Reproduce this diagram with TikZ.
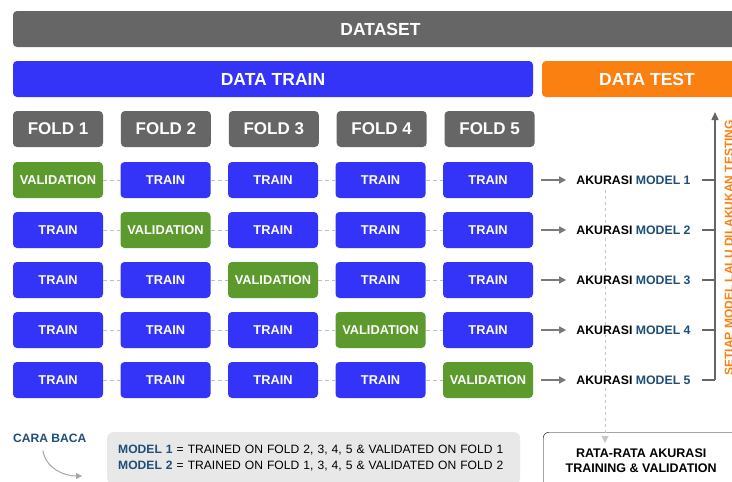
\documentclass[tikz,border=0pt]{standalone}
\usepackage{fontspec}
\setmainfont{Liberation Sans}
\usetikzlibrary{arrows.meta,positioning,calc}
\definecolor{dsgray}{HTML}{666666}
\definecolor{trblue}{HTML}{3434F8}
\definecolor{valgreen}{HTML}{5C9A2E}
\definecolor{tsorange}{HTML}{FA8012}
\definecolor{mdblue}{HTML}{1F4E79}
\definecolor{leggray}{HTML}{E8E8E8}
\definecolor{arrgray}{HTML}{7A7A7A}

\begin{document}
\begin{tikzpicture}[
            x=1pt,y=-1pt,
            bar/.style={rectangle,rounded corners=4pt,minimum height=36pt,inner sep=0pt,
                        text=white,font=\bfseries\fontsize{17.5}{19}\selectfont},
            fold/.style={bar,fill=dsgray,minimum width=90pt,font=\bfseries\fontsize{17}{19}\selectfont},
            trainbox/.style={bar,fill=trblue,minimum width=90pt,font=\bfseries\fontsize{12.8}{14}\selectfont},
            valbox/.style={trainbox,fill=valgreen},
            link/.style={dashed,dash pattern=on 4pt off 3pt,black!25,line width=0.8pt},
            acc/.style={font=\bfseries\fontsize{12.3}{14}\selectfont,fill=white,inner sep=1pt},
            line/.style={-{Triangle[length=7pt,width=7pt]},arrgray,line width=1.4pt},
            axis/.style={-{Triangle[length=8pt,width=7pt]},dsgray,line width=1.4pt},
            dots/.style={dash pattern=on 3pt off 3pt,black!22,line width=1pt,-{Triangle[length=7pt,width=7pt]}}
        ]
        \clip (0,0) rectangle (732,482);
        \fill[white] (0,0) rectangle (732,482);
        % top bars
        \node[bar,fill=dsgray,minimum width=735pt] (dataset) at (380.5,29) {DATASET};
        \node[bar,fill=trblue,minimum width=520pt] (train) at (273,79) {DATA TRAIN};
        \node[bar,fill=tsorange,minimum width=210pt] (test) at (647,79) {DATA TEST};
        % folds
        \node[fold] (fold1) at (58,129) {FOLD 1};
        \foreach \c [count=\p] in {2,...,5}
            \node[fold, right=17.5pt of fold\p] (fold\c) {FOLD \c};
        % models
        \foreach \r in {1,...,5}{
            \foreach \c in {1,...,5}{
                \ifnum\r=\c \def\st{valbox}\def\lab{VALIDATION}\else\def\st{trainbox}\def\lab{TRAIN}\fi
                \node[\st] (b\r\c) at ({58+(\c-1)*107.5},{180+(\r-1)*50}) {\lab};
            }
            \foreach \c [count=\p] in {2,...,5}
                \draw[link] (b\r\p.east) -- (b\r\c.west);
        }
        % average line (drawn behind the labels)
        \coordinate (dtop) at (605,190);
        \node[draw=black,rounded corners=6pt,fill=white,minimum width=196pt,minimum height=56pt,
              anchor=north west,align=center,font=\bfseries\fontsize{12.5}{15}\selectfont] (rata) at (543,432)
              {RATA-RATA AKURASI\\TRAINING \& VALIDATION};
        \draw[dots] (dtop) -- ([yshift=-11pt]dtop |- rata.north);
        % akurasi
        \coordinate (top) at (715,112);
        \coordinate (bot) at (715,380);
        \foreach \r in {1,...,5}{
            \node[acc, right=42pt of b\r5] (acc\r) {AKURASI \textcolor{mdblue}{MODEL \r}};
            \draw[line] ([xshift=8pt]b\r5.east) -- ([xshift=-9pt]acc\r.west);
            \draw[dsgray,line width=1.4pt] ($(acc\r -| top)+(-13,0)$) -- (acc\r -| top);
        }
        \draw[axis] (bot) -- (top);
        \node[rotate=90,text=tsorange,font=\bfseries\fontsize{12}{14}\selectfont,anchor=west] (note)
            at ($(bot)+(14,-1)$) {SETIAP MODEL LALU DILAKUKAN TESTING};
        % cara baca
        \node[anchor=west,inner sep=0pt,text=mdblue,font=\bfseries\fontsize{12.1}{14}\selectfont] (cara) at (13,438) {CARA BACA};
        \coordinate (ctip) at (82,476);
        \draw[-{Triangle[length=6pt,width=6pt]},black!35,line width=1pt]
            ($(cara.south)+(-7,8)$) to[out=-80,in=180] (ctip);
        \node[fill=leggray,rounded corners=6pt,minimum width=413pt,minimum height=52pt,anchor=north west,
              align=left,text width=391pt,inner xsep=11pt,inner ysep=0pt,font=\fontsize{12.1}{16}\selectfont] (legend) at (107,432)
              {\textbf{\textcolor{mdblue}{MODEL 1}} = TRAINED ON FOLD 2, 3, 4, 5 \& VALIDATED ON FOLD 1\\
               \textbf{\textcolor{mdblue}{MODEL 2}} = TRAINED ON FOLD 1, 3, 4, 5 \& VALIDATED ON FOLD 2};
        \end{tikzpicture}
\end{document}
